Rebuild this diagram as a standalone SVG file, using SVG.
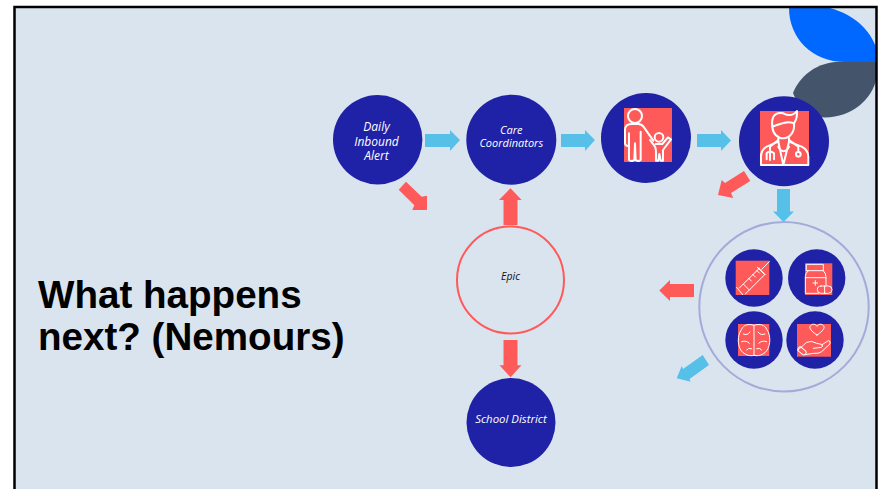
<svg xmlns="http://www.w3.org/2000/svg" width="880" height="489" viewBox="0 0 880 489">
<style>
.navy{fill:#1f22a6}
.coral{fill:#ff5a5a}
.sky{fill:#56c0e8}
.ln{fill:none;stroke:#fff;stroke-linejoin:round;stroke-linecap:round}
.z1{transform:translate(590px,0) scale(.3333)}
.z2{transform:translate(650px,210px) scale(.3333)}
.lab{font-family:"Open Sans","Noto Sans",sans-serif;font-style:italic;font-size:11px;text-anchor:middle}
.w{fill:#fff}
.title{font-family:"Liberation Sans",Arial,sans-serif;font-weight:700;font-size:38.6px;fill:#000}
</style>
<rect width="880" height="489" fill="#fff"/>
<rect x="14.500" y="7" width="862" height="490" fill="#dae4ef"/>
<g id="decor">
<path d="M789 8C789 38 812 62 845 62L877 62L877 50C870 28 852 14 830 8Z" fill="#0068ff"/>
<path d="M877 62L835 62C815 64 800 76 793 93C798 108 810 117 825 117.500C852 117 872 100 877 77Z" fill="#44546a"/>
</g>
<rect id="frame" x="14.500" y="7" width="862" height="490" fill="none" stroke="#000" stroke-width="2.500"/>
<text id="title" class="title"><tspan x="38" y="308">What happens</tspan><tspan x="38" y="350">next? (Nemours)</tspan></text>
<g id="connectors">
<polygon class="sky" points="425,134 450,134 450,130 460,140 450,151 450,147 425,147"/>
<polygon class="sky" points="561,134 585,134 585,130 595,140 585,151 585,147 561,147"/>
<polygon class="sky" points="697,134 721,134 721,130 731,140.500 721,151 721,147 697,147"/>
<polygon class="sky" points="777,189 790,189 790,211.500 794,211.500 783.500,222 773,211.500 777,211.500"/>
<polygon class="coral" points="744,171 750.300,181 731,193 733.300,198 718,195 721.700,180 725,183"/>
<polygon class="coral" points="406,181.700 398.700,189.700 414.300,205.300 412.300,210 427,210 427,195.700 421.700,196.700"/>
<polygon class="coral" points="503.500,225 517.500,225 517.500,200 521.700,200 510.500,188.300 499,200 503.500,200"/>
<polygon class="coral" points="503.500,340 517.500,340 517.500,365.300 521.500,365.300 510.500,377.300 499.500,365.300 503.500,365.300"/>
<polygon class="coral" points="694,284 694,297 670,297 670,301 659.300,290.500 670,280 670,284"/>
<polygon class="sky" points="702.700,355 709,365 689.500,379 690.700,381.700 676.700,378.300 681.700,366 683,369"/>
</g>
<g id="daily-inbound-alert">
<circle class="navy" cx="377.700" cy="139.700" r="44.700"/>
<text class="lab w" style="font-size:12px"><tspan x="376.500" y="131">Daily</tspan><tspan x="376.500" y="146">Inbound</tspan><tspan x="376.500" y="160">Alert</tspan></text>
</g>
<g id="care-coordinators">
<circle class="navy" cx="511.300" cy="139.700" r="45"/>
<text class="lab w"><tspan x="511.300" y="134">Care</tspan><tspan x="511.300" y="147">Coordinators</tspan></text>
</g>
<g id="parent-child">
<circle class="navy" cx="646" cy="138" r="45"/>
<rect class="coral" x="624" y="108" width="48" height="54"/>
<g class="ln z1" stroke-width="6">
<circle cx="135" cy="348" r="21"/>
<circle cx="207" cy="412" r="13"/>
<path d="M117 480L117 400M105 430L105 390Q105 372 125 372L145 372Q155 372 162 382L190 422M105 430Q105 438 116 438M117 480Q125 486 133 480L135 430L137 480Q145 486 152 480L152 395"/>
<path d="M180 420L195 440Q198 445 198 460L198 482L205 482L208 462L212 482L219 482L219 450L243 418L234 412L217 432L197 432"/>
</g>
</g>
<g id="doctor">
<circle class="navy" cx="784" cy="141.300" r="45"/>
<rect class="coral" x="760" y="111" width="49" height="54.700"/>
<g class="ln z1" stroke-width="6">
<path d="M547 380C543 350 555 335 580 340C600 350 612 345 621 333C622 350 618 362 612 370C615 395 600 415 580 415C562 415 548 400 547 380Z"/>
<path d="M547 380C570 372 590 362 612 370"/>
<path d="M565 415L565 425L530 440Q513 450 513 470L513 495L655 495L655 470Q655 450 635 440L597 425L597 415"/>
<path d="M565 425L580 495L597 425M565 440C572 458 590 458 597 440"/>
<path d="M565 420L540 440L540 480M530 478L530 460Q540 450 552 460L552 478"/>
<path d="M597 420L625 440L625 455"/>
<circle cx="625" cy="463" r="7"/>
</g>
</g>
<g id="epic">
<circle cx="510.500" cy="280" r="53.500" fill="none" stroke="#ff5a5a" stroke-width="2"/>
<text class="lab" x="510.500" y="280" fill="#111" style="font-size:10.5px">Epic</text>
</g>
<g id="school-district">
<circle class="navy" cx="511" cy="422.500" r="44.500"/>
<text class="lab w" x="511" y="423" style="font-size:11.4px">School District</text>
</g>
<g id="services">
<circle cx="784" cy="306.700" r="84.700" fill="none" stroke="#a3abd8" stroke-width="2"/>
<g id="vaccine">
<circle class="navy" cx="754" cy="278" r="28.700"/>
<rect class="coral" x="735.700" y="260.700" width="33.600" height="34.300"/>
<g class="ln z2" stroke-width="3">
<path d="M358 155L335 178M322 172L343 193M327 175L345 193M328 175L280 222L298 240L345 193M280 222L268 234M298 240L286 252M260 232L278 254"/>
<path d="M296 205L304 213M308 193L316 201M320 181L328 189"/>
</g>
</g>
<g id="medicine">
<circle class="navy" cx="816.700" cy="278" r="28.700"/>
<rect class="coral" x="805" y="263.300" width="27.300" height="31.700"/>
<g class="ln z2" stroke-width="3">
<path d="M470 163H520V182H470ZM475 182Q466 190 466 200V250H505M520 182Q528 190 528 200V226"/>
<path d="M496 212V226M489 219H503M466 203H528"/>
<rect x="502" y="228" width="44" height="22" rx="11"/>
<path d="M524 228V250"/>
</g>
</g>
<g id="brain">
<circle class="navy" cx="754" cy="340" r="28.700"/>
<rect class="coral" x="738" y="324" width="31.300" height="32"/>
<g class="ln z2" stroke-width="3">
<path d="M312 346V436M312 346C295 340 280 345 275 358C265 370 262 395 268 410C272 428 295 442 312 436M312 346C330 340 345 345 350 358C360 370 362 395 356 410C352 428 330 442 312 436"/>
<path d="M280 372Q292 378 300 366M275 395Q290 390 298 400M290 420Q295 412 305 416M345 372Q332 378 324 366M350 395Q335 390 326 400M335 420Q330 412 320 416"/>
</g>
</g>
<g id="care-hand">
<circle class="navy" cx="815" cy="340" r="28.700"/>
<rect class="coral" x="797" y="324" width="34" height="32.700"/>
<g class="ln z2" stroke-width="3">
<path d="M501 375C490 368 478 358 480 350C483 341 496 340 501 349C506 340 519 341 522 350C524 358 512 368 501 375Z"/>
<path d="M444 420L470 397Q485 390 500 400L510 402Q522 404 515 412L490 415M515 405L535 392Q543 392 540 402L515 425Q505 432 490 430L465 434"/>
<rect x="442" y="416" width="28" height="14" rx="6" transform="rotate(40 456 423)"/>
</g>
</g>
</g>
</svg>
